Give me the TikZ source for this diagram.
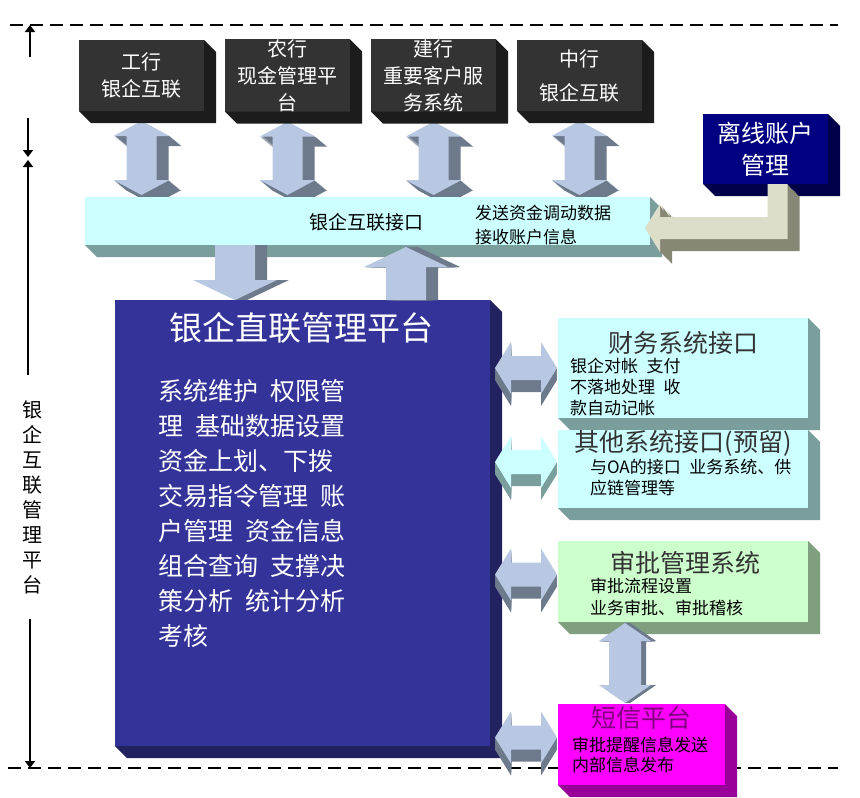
\documentclass[tikz,border=0pt]{standalone}
\usepackage{fontspec}
\setmainfont{Noto Sans CJK SC}
\usepackage{tikz}
\usetikzlibrary{arrows.meta, positioning, calc}

\pgfdeclarelayer{back}
\pgfdeclarelayer{front}
\pgfsetlayers{back,main,front}

\definecolor{bankfc}{HTML}{333333}
\definecolor{banksd}{HTML}{1C1C1C}
\definecolor{arrfc}{HTML}{B9C8E2}
\definecolor{arrsd}{HTML}{6D7A8C}
\definecolor{cyanfc}{HTML}{CCFFFF}
\definecolor{cyansd}{HTML}{7A9E9B}
\definecolor{navyfc}{HTML}{000080}
\definecolor{navysd}{HTML}{00004A}
\definecolor{beigefc}{HTML}{DCDEC9}
\definecolor{beigesd}{HTML}{878775}
\definecolor{platfc}{HTML}{333399}
\definecolor{platsd}{HTML}{222260}
\definecolor{greenfc}{HTML}{CCFFCC}
\definecolor{greensd}{HTML}{7F9F7F}
\definecolor{smsfc}{HTML}{FF00FF}
\definecolor{smssd}{HTML}{990099}
\definecolor{smstx}{HTML}{800080}

% sizes of the block arrows: half shaft, half head, head length, extrusion step x, y
\newcommand{\blockdims}[5]{\def\aw{#1}\def\ah{#2}\def\al{#3}\def\ex{#4}\def\ey{#5}}

% right and bottom side of a box node
\newcommand{\boxside}[3]{%
  \fill[#2] (#1.south west) -- ++(#3,-#3) -| ($(#1.north east)+(#3,-#3)$)
    -- (#1.north east) -- (#1.south east) -- cycle;}

% double block arrow, top tip #1, bottom tip #2
\newcommand{\vdpoly}[3]{%
  \fill[#3] let \p1=#1, \p2=#2 in
    (\x1,\y1) -- (\x1+\ah,\y1-\al) -- (\x1+\aw,\y1-\al) -- (\x1+\aw,\y2+\al)
    -- (\x1+\ah,\y2+\al) -- (\x1,\y2) -- (\x1-\ah,\y2+\al) -- (\x1-\aw,\y2+\al)
    -- (\x1-\aw,\y1-\al) -- (\x1-\ah,\y1-\al) -- cycle;}

% double block arrow, left tip #1, right tip #2
\newcommand{\hdpoly}[3]{%
  \fill[#3] let \p1=#1, \p2=#2 in
    (\x1,\y1) -- (\x1+\al,\y1+\ah) -- (\x1+\al,\y1+\aw) -- (\x2-\al,\y1+\aw)
    -- (\x2-\al,\y1+\ah) -- (\x2,\y1) -- (\x2-\al,\y1-\ah) -- (\x2-\al,\y1-\aw)
    -- (\x1+\al,\y1-\aw) -- (\x1+\al,\y1-\ah) -- cycle;}

% single block arrows, flat end #1, tip #2
\newcommand{\dnpoly}[3]{%
  \fill[#3] let \p1=#1, \p2=#2 in
    (\x1-\aw,\y1) -- (\x1-\aw,\y2+\al) -- (\x1-\ah,\y2+\al) -- (\x1,\y2)
    -- (\x1+\ah,\y2+\al) -- (\x1+\aw,\y2+\al) -- (\x1+\aw,\y1) -- cycle;}
\newcommand{\uppoly}[3]{%
  \fill[#3] let \p1=#1, \p2=#2 in
    (\x1-\aw,\y1) -- (\x1-\aw,\y2-\al) -- (\x1-\ah,\y2-\al) -- (\x1,\y2)
    -- (\x1+\ah,\y2-\al) -- (\x1+\aw,\y2-\al) -- (\x1+\aw,\y1) -- cycle;}

% bent arrow from box #1 down and left to the tip beside #2
\newcommand{\lpoly}[3]{%
  \fill[#3] let \p1=#1, \p2=#2 in
    (\x2-5pt,\y2-7pt) -- (\x2+10pt,\y2+17pt) -- (\x2+10pt,\y2+4pt) -- (\x1+2pt,\y2+4pt)
    -- (\x1+2pt,\y1) -- (\x1+22pt,\y1) -- (\x1+22pt,\y2-18pt) -- (\x2+10pt,\y2-18pt)
    -- (\x2+10pt,\y2-31pt) -- cycle;}

% extruded block arrow
\newcommand{\solid}[5]{%
  \foreach \k in {1,...,10}{%
    \begin{scope}[transform canvas={shift={(\ex*\k,-\ey*\k)}}]
      #1{#2}{#3}{#5}
    \end{scope}}
  #1{#2}{#3}{#4}}

\begin{document}
\begin{tikzpicture}[
    every node/.style = {inner sep=0pt, outer sep=0pt, align=center},
    bankbox/.style  = {fill=bankfc, text=white, minimum width=125pt, minimum height=71pt,
                       font=\fontsize{20}{27}\selectfont},
    barbox/.style   = {fill=cyanfc, minimum width=565pt, minimum height=48pt},
    offbox/.style   = {fill=navyfc, text=white, minimum width=125pt, minimum height=70pt,
                       font=\fontsize{24}{32}\selectfont},
    platbox/.style  = {fill=platfc, minimum width=375pt, minimum height=446pt},
    sysbox/.style   = {minimum width=250pt},
    smsbox/.style   = {fill=smsfc, minimum width=167pt, minimum height=81pt},
    systitle/.style = {font=\fontsize{25}{30}\selectfont, text=black!80},
    sysbody/.style  = {anchor=west, align=left, font=\fontsize{17}{21}\selectfont},
    dashline/.style = {line width=1.3pt, dash pattern=on 13pt off 7pt},
    spanarr/.style  = {line width=2.2pt, -{Triangle[length=7pt,width=10pt]}},
]
\useasboundingbox (0pt,0pt) rectangle (860pt,-798pt);

%% Frame
\coordinate (dtl) at (10pt,-25pt);
\coordinate (dtr) at (838pt,-25pt);
\coordinate (dbl) at (8pt,-768pt);
\coordinate (dbr) at (838pt,-768pt);
\begin{pgfonlayer}{back}
\draw[dashline] (dtl) -- (dtr);
\draw[dashline] (dbl) -- (dbr);
\end{pgfonlayer}

%% Side span
\coordinate (brA) at (30pt,-57pt);
\coordinate (brB) at (30pt,-25pt);
\coordinate (brC) at (28pt,-118pt);
\coordinate (brD) at (28pt,-157pt);
\coordinate (brE) at (28pt,-375pt);
\coordinate (brF) at (28pt,-160pt);
\coordinate (brG) at (30pt,-619pt);
\coordinate (brH) at (30pt,-768pt);
\draw[spanarr] (brA) -- (brB);
\draw[spanarr] (brC) -- (brD);
\draw[spanarr] (brE) -- (brF);
\draw[spanarr] (brG) -- (brH);
\node[font=\fontsize{20}{25}\selectfont] (side) at (32pt,-497pt)
    {银\\企\\互\\联\\管\\理\\平\\台};

%% Banks
\node[bankbox] (icbc) at (141.5pt,-75.5pt) {工行\\银企互联};
\node[bankbox] (abc)  at (287.5pt,-75.5pt) {农行\\现金管理平\\台};
\node[bankbox] (ccb)  at (433.5pt,-75.5pt) {建行\\重要客户服\\务系统};
\node[bankbox] (boc)  at (579.5pt,-75.5pt) {中行\\[7pt]银企互联};
\boxside{icbc}{banksd}{12pt}
\boxside{abc}{banksd}{12pt}
\boxside{ccb}{banksd}{12pt}
\boxside{boc}{banksd}{12pt}

%% Interface bar
\node[barbox] (bar) at (367.5pt,-221pt) {};
\boxside{bar}{cyansd}{12pt}
\node[font=\fontsize{19}{24}\selectfont] (bartitle) at (366pt,-222pt) {银企互联接口};
\node[sysbody, font=\fontsize{17}{24}\selectfont] (barmsg) at (475pt,-225pt)
    {发送资金调动数据\\接收账户信息};

%% Offline accounts
\node[offbox] (offline) at (765.5pt,-149pt) {离线账户\\管理};
\boxside{offline}{navysd}{12pt}

%% Platform
\node[platbox] (platform) at (302.5pt,-523pt) {};
\boxside{platform}{platsd}{12pt}
\node[text=white, font=\fontsize{33}{40}\selectfont] (plattitle) at (301pt,-328pt)
    {银企直联管理平台};
\node[anchor=west, align=left, text=white, font=\fontsize{25}{35}\selectfont]
    (platbody) at (158pt,-513pt)
    {系统维护\hspace{0.5em}权限管\\
     理\hspace{0.5em}基础数据设置\\
     资金上划、下拨\\
     交易指令管理\hspace{0.5em}账\\
     户管理\hspace{0.5em}资金信息\\
     组合查询\hspace{0.5em}支撑决\\
     策分析\hspace{0.5em}统计分析\\
     考核};

%% Other systems
\node[sysbox, fill=cyanfc, minimum height=100pt] (fin) at (683pt,-368pt) {};
\boxside{fin}{cyansd}{12pt}
\node[systitle] (fintitle) at (683pt,-343pt) {财务系统接口};
\node[sysbody] (finbody) at (570pt,-387pt)
    {银企对帐\hspace{0.5em}支付\\不落地处理\hspace{0.5em}收\\款自动记帐};

\node[sysbox, fill=cyanfc, minimum height=78pt] (other) at (683pt,-469pt) {};
\boxside{other}{cyansd}{12pt}
\node[systitle] (othertitle) at (683pt,-443pt) {其他系统接口(预留)};
\node[sysbody] (otherbody) at (590pt,-477.5pt)
    {与OA的接口\hspace{0.5em}业务系统、供\\应链管理等};

\node[sysbox, fill=greenfc, minimum height=81pt] (appr) at (683pt,-581.5pt) {};
\boxside{appr}{greensd}{12pt}
\node[systitle] (apprtitle) at (685pt,-563pt) {审批管理系统};
\node[sysbody, font=\fontsize{17}{22}\selectfont] (apprbody) at (590pt,-597pt)
    {审批流程设置\\业务审批、审批稽核};

%% SMS platform
\begin{pgfonlayer}{front}
\node[smsbox] (sms) at (641.5pt,-744.5pt) {};
\boxside{sms}{smssd}{12pt}
\node[systitle, text=smstx] (smstitle) at (641pt,-718pt) {短信平台};
\node[sysbody, font=\fontsize{17}{20}\selectfont] (smsbody) at (572pt,-755pt)
    {审批提醒信息发送\\内部信息发布};
\end{pgfonlayer}

%% Block arrows
\begin{pgfonlayer}{back}
\blockdims{15pt}{28pt}{15pt}{1.2pt}{1pt}
\solid{\vdpoly}{($(icbc.south)+(0,-10pt)$)}{($(bar.north)+(0,2pt)$)}{arrfc}{arrsd}
\solid{\vdpoly}{($(abc.south)+(0,-10pt)$)}{($(bar.north)+(0,2pt)$)}{arrfc}{arrsd}
\solid{\vdpoly}{($(ccb.south)+(0,-10pt)$)}{($(bar.north)+(0,2pt)$)}{arrfc}{arrsd}
\solid{\vdpoly}{($(boc.south)+(0,-10pt)$)}{($(bar.north)+(0,2pt)$)}{arrfc}{arrsd}
\end{pgfonlayer}

\begin{pgfonlayer}{front}
\blockdims{20pt}{42pt}{20pt}{1.2pt}{0pt}
\solid{\dnpoly}{($(bar.south west)+(150pt,0)$)}{(platform.north)}{arrfc}{arrsd}
\solid{\uppoly}{($(platform.north west)+(291pt,0)$)}{($(bar.south)+(0,-2pt)$)}{arrfc}{arrsd}

\blockdims{0pt}{0pt}{0pt}{1.2pt}{1.2pt}
\solid{\lpoly}{(offline.south)}{(bar.east)}{beigefc}{beigesd}

\blockdims{12pt}{26pt}{16pt}{0pt}{1.2pt}
\solid{\hdpoly}{($(platform.east |- fin.west)+(5pt,0)$)}{($(fin.west)+(-1pt,0)$)}{arrfc}{arrsd}
\solid{\hdpoly}{($(platform.east |- other.west)+(5pt,7pt)$)}{($(other.west)+(-1pt,0)$)}{cyanfc}{cyansd}
\solid{\hdpoly}{($(platform.east |- appr.west)+(5pt,7pt)$)}{($(appr.west)+(-1pt,0)$)}{arrfc}{arrsd}
\solid{\hdpoly}{($(platform.east |- sms.west)+(5pt,7pt)$)}{($(sms.west)+(-1pt,0)$)}{arrfc}{arrsd}

\blockdims{16pt}{26pt}{18pt}{0.5pt}{0pt}
\solid{\vdpoly}{($(appr.south)+(-58pt,-1pt)$)}{($(sms.north)+(0,1pt)$)}{arrfc}{arrsd}
\end{pgfonlayer}

\end{tikzpicture}
\end{document}
